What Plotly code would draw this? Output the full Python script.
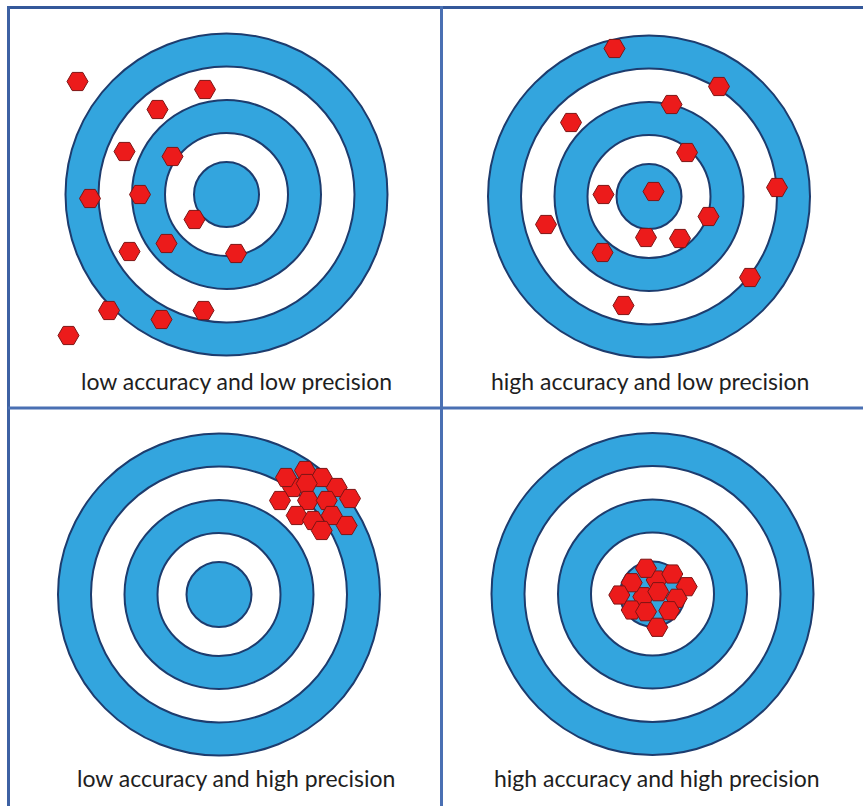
import plotly.graph_objects as go

# ---------------- data ----------------
panel_titles = [
    "low accuracy and low precision",
    "high accuracy and low precision",
    "low accuracy and high precision",
    "high accuracy and high precision",
]

# ring radii (px-units, outer to inner)
ring_radii = [161, 128, 94.5, 61.5, 32.5]

# shot positions relative to target centre (x right, y up)
p1_x = [-149, -21.5, -69, -102, -54, -136.5, -86.5, -32, -60, -97, 9.5, -117.5, -23, -65, -158]
p1_y = [113, 105, 85, 43, 38, -4, 0, -25, -49, -57, -59, -116, -116, -125, -141]

p2_x = [-34.5, 70, 22.5, -78, 38, -45.5, 4.5, 128, 59.5, -103, -3, 31, -46.5, 101, -25.5]
p2_y = [148, 110, 92, 74, 44, 2, 5, 9, -20, -28, -41, -42, -56, -81, -109]

p3_x = [74, 61, 117.7, 67, 86, 102.7, 87.7, 89, 107.7, 131, 77.7, 94, 112.7, 102.7, 127.7]
p3_y = [107, 94, 107, 117, 124, 117, 111, 94, 94, 96, 79, 74, 79, 64, 69]

p4_x = [-9.2, 4.2, -6.5, 19.8, -20.8, 34.2, -33.2, 5.8, 24.2, -20.8, -6.5, 16.8, 4.8]
p4_y = [-2.7, 14, 25.7, 20, 11.3, 7.3, -1, 2.3, -4.3, -16, -17.7, -16.7, -33.3]

shots_x = [p1_x, p2_x, p3_x, p4_x]
shots_y = [p1_y, p2_y, p3_y, p4_y]

# ---------------- layout geometry ----------------
W, H = 863, 806
XS, YS = 441.5, 408                    # divider positions (px)
quads = [(0, XS, 0, YS), (XS, W, 0, YS), (0, XS, YS, H), (XS, W, YS, H)]
centres = [(226.5, 194.5), (649, 196.5), (219, 594.5), (652.5, 594)]
label_pos = [(236, 381), (650, 381), (236, 778), (657, 778)]

BLUE = "#33a5de"
EDGE = "#1d3c6e"
RED = "#ec1b1b"
RED_EDGE = "#7d1414"
FRAME = "#4a70b3"

fig = go.Figure()
shapes = []
annotations = []

for i in range(4):
    x0, x1, y0, y1 = quads[i]
    cx, cy = centres[i]
    n = "" if i == 0 else str(i + 1)
    xa, ya = "x" + n, "y" + n
    fig.add_trace(go.Scatter(
        x=shots_x[i], y=shots_y[i], mode="markers",
        marker=dict(symbol="hexagon2", size=21, color=RED,
                    line=dict(color=RED_EDGE, width=1)),
        xaxis=xa, yaxis=ya, showlegend=False, hoverinfo="skip"))
    ax = dict(domain=[x0 / W, x1 / W], range=[x0 - cx, x1 - cx],
              visible=False, fixedrange=True)
    ay = dict(domain=[1 - y1 / H, 1 - y0 / H], range=[cy - y1, cy - y0],
              visible=False, fixedrange=True)
    fig.layout["xaxis" + n] = ax
    fig.layout["yaxis" + n] = ay
    for k, r in enumerate(ring_radii):
        shapes.append(dict(type="circle", xref=xa, yref=ya,
                           x0=-r, x1=r, y0=-r, y1=r, layer="below",
                           fillcolor=BLUE if k % 2 == 0 else "white",
                           line=dict(color=EDGE, width=2)))
    lx, ly = label_pos[i]
    annotations.append(dict(text=panel_titles[i], xref="paper", yref="paper",
                            x=lx / W, y=1 - ly / H, showarrow=False,
                            xanchor="center", yanchor="middle",
                            font=dict(family="Lato", size=23, color="#1e1e1e")))

# frame lines
shapes += [
    dict(type="line", xref="paper", yref="paper", x0=8 / W, x1=1, y0=1 - 7.5 / H, y1=1 - 7.5 / H,
         line=dict(color="#34589a", width=3)),
    dict(type="line", xref="paper", yref="paper", x0=8.5 / W, x1=8.5 / W, y0=0, y1=1 - 6 / H,
         line=dict(color="#3d61a3", width=3)),
    dict(type="line", xref="paper", yref="paper", x0=XS / W, x1=XS / W, y0=0, y1=1 - 6 / H,
         line=dict(color=FRAME, width=3)),
    dict(type="line", xref="paper", yref="paper", x0=8 / W, x1=1, y0=1 - YS / H, y1=1 - YS / H,
         line=dict(color=FRAME, width=3)),
]

fig.update_layout(width=W, height=H, margin=dict(l=0, r=0, t=0, b=0),
                  paper_bgcolor="white", plot_bgcolor="white",
                  shapes=shapes, annotations=annotations)

fig.write_html("out.html", config={"displayModeBar": False},
               post_script="document.body.style.margin='0';document.body.style.overflow='hidden';")
